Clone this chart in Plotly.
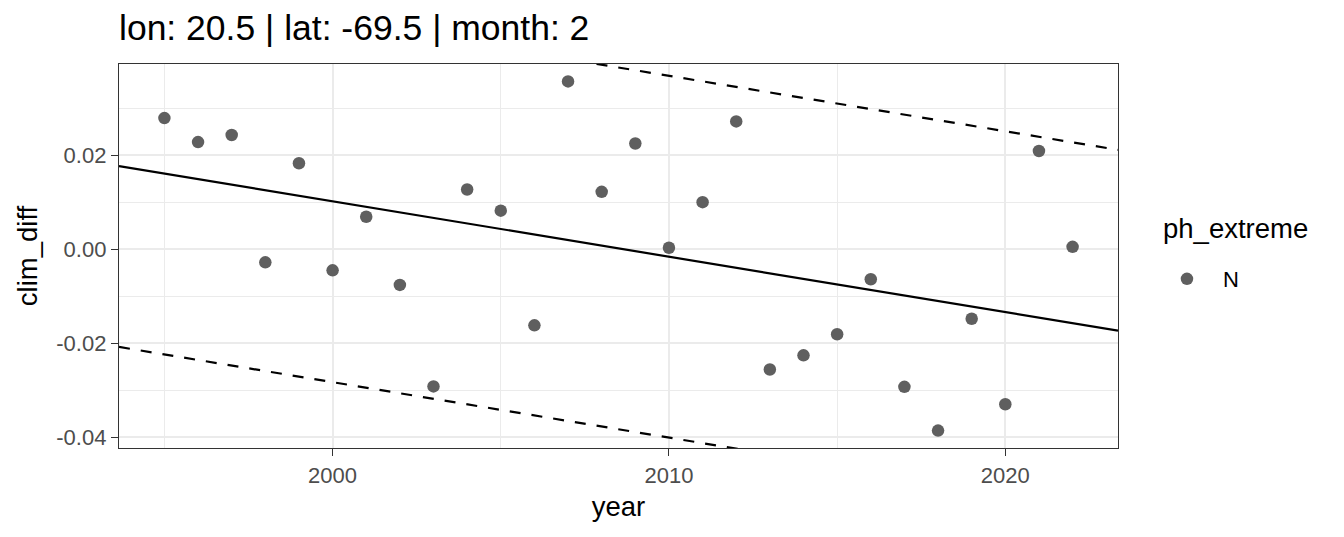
import plotly.graph_objects as go

# ---- data ----
years = [1995, 1996, 1997, 1998, 1999, 2000, 2001, 2002, 2003, 2004,
         2005, 2006, 2007, 2008, 2009, 2010, 2011, 2012, 2013, 2014,
         2015, 2016, 2017, 2018, 2019, 2020, 2021, 2022]
clim_diff = [0.0279, 0.0228, 0.0243, -0.0028, 0.0183, -0.0045, 0.0069, -0.0076, -0.0292, 0.0127,
             0.0082, -0.0162, 0.0357, 0.0122, 0.0225, 0.0003, 0.0100, 0.0272, -0.0256, -0.0226,
             -0.0181, -0.0064, -0.0293, -0.0386, -0.0148, -0.0330, 0.0209, 0.0005]
ph_extreme = "N"

trend_at_2000 = 0.0102
trend_slope = -0.00118
band_half_width = 0.0385

x_ticks = [2000, 2010, 2020]
x_ticktext = ["2000", "2010", "2020"]
y_ticks = [-0.04, -0.02, 0.00, 0.02]
y_ticktext = ["-0.04", "-0.02", "0.00", "0.02"]

title_text = "lon: 20.5 | lat: -69.5 | month: 2"
legend_title = "ph_extreme"

# ---- ranges (ggplot style 5% expansion) ----
xmin, xmax = min(years), max(years)
xpad = (xmax - xmin) * 0.05
x_range = [xmin - xpad, xmax + xpad]
ymin, ymax = min(clim_diff), max(clim_diff)
ypad = (ymax - ymin) * 0.05
y_range = [ymin - ypad, ymax + ypad]

def trend(x, off=0.0):
    return trend_at_2000 + trend_slope * (x - 2000) + off

FONT = "Liberation Sans, Arial, Helvetica, sans-serif"

fig = go.Figure()
fig.add_trace(go.Scatter(
    x=years, y=clim_diff, mode="markers", name=ph_extreme,
    marker=dict(color="#5f5f5f", size=12.5), showlegend=True))

for off, dash in [(0.0, "solid"), (band_half_width, "11px,11px"), (-band_half_width, "11px,11px")]:
    fig.add_trace(go.Scatter(
        x=x_range, y=[trend(x_range[0], off), trend(x_range[1], off)],
        mode="lines", line=dict(color="black", width=2.2, dash=dash),
        showlegend=False, hoverinfo="skip"))

axis_common = dict(
    showline=True, mirror=True, linecolor="#333333", linewidth=1.4,
    ticks="outside", ticklen=7, tickwidth=1.4, tickcolor="#333333",
    tickfont=dict(family=FONT, size=22, color="#4D4D4D"),
    showgrid=True, gridcolor="#EBEBEB", gridwidth=2,
    zeroline=False,
)

# page body has an 8px margin: figure occupies screen x 8..1344, y 8..537
W, H = 1336, 529
fig.update_layout(
    width=W, height=H,
    margin=dict(l=111, r=226, t=56, b=89),
    paper_bgcolor="white", plot_bgcolor="white",
    font=dict(family=FONT, color="black"),
    title=dict(text=title_text, x=0, xref="paper", xanchor="left",
               y=1 - 20/H, yref="container", yanchor="middle",
               font=dict(family=FONT, size=35.5, color="black")),
    xaxis=dict(range=x_range, tickvals=x_ticks, ticktext=x_ticktext,
               title=dict(text="year", font=dict(family=FONT, size=27.5, color="black"), standoff=10),
               minor=dict(dtick=5, tick0=1995, showgrid=True, gridcolor="#EBEBEB", gridwidth=1, ticks=""),
               **axis_common),
    yaxis=dict(range=y_range, tickvals=y_ticks, ticktext=y_ticktext,
               title=dict(text="clim_diff", font=dict(family=FONT, size=27.5, color="black"), standoff=10),
               minor=dict(dtick=0.01, tick0=0, showgrid=True, gridcolor="#EBEBEB", gridwidth=1, ticks=""),
               **axis_common),
    legend=dict(x=1.033, xanchor="left", y=0.44, yanchor="middle",
                itemwidth=62,
                font=dict(family=FONT, size=22, color="black"),
                bgcolor="rgba(0,0,0,0)"),
    annotations=[dict(text=legend_title, xref="paper", yref="paper",
                      x=1.043, y=0.5715, xanchor="left", yanchor="middle",
                      showarrow=False,
                      font=dict(family=FONT, size=27.5, color="black"))],
)

fig.write_html("out.html")
